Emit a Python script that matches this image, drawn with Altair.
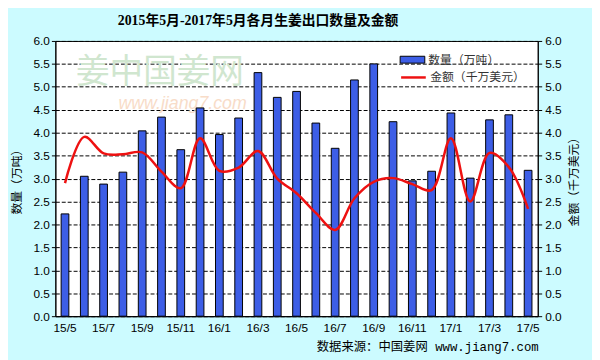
import altair as alt
import pandas as pd

months = ["15/5", "15/6", "15/7", "15/8", "15/9", "15/10", "15/11", "15/12",
          "16/1", "16/2", "16/3", "16/4", "16/5", "16/6", "16/7", "16/8",
          "16/9", "16/10", "16/11", "16/12", "17/1", "17/2", "17/3", "17/4", "17/5"]
qty = [2.23, 3.05, 2.88, 3.14, 4.04, 4.34, 3.63, 4.54, 3.96, 4.32, 5.31, 4.77, 4.90,
       4.21, 3.66, 5.15, 5.50, 4.24, 2.95, 3.16, 4.43, 3.01, 4.28, 4.39, 3.18]
amt = [2.90, 3.91, 3.55, 3.53, 3.57, 3.15, 2.79, 3.88, 3.17, 3.24, 3.60, 3.00, 2.68,
       2.25, 1.88, 2.57, 2.93, 3.01, 2.88, 2.75, 3.88, 2.50, 3.56, 3.25, 2.34]
label_months = months[::2]
name_q = "数量（万吨）"
name_a = "金额（千万美元）"
title_text = "2015年5月-2017年5月各月生姜出口数量及金额"
source_text = "数据来源：中国姜网 www.jiang7.com"

df = pd.DataFrame({"month": months, "qty": qty, "amt": amt,
                   "sq": [name_q] * len(months), "sa": [name_a] * len(months)})

CJK = "Noto Sans CJK SC"

x_axis = alt.Axis(values=label_months, labelAngle=0, ticks=False, labelPadding=7,
                  title=None, labelFont="Liberation Sans", labelFontSize=12,
                  labelColor="black", domainColor="black", grid=False)
x_enc = alt.X("month:N", sort=months, axis=x_axis,
              scale=alt.Scale(paddingInner=0.6, paddingOuter=0.3))

base = alt.Chart(df)

wm1 = alt.Chart(pd.DataFrame({"t": ["姜中国姜网"]})).mark_text(
    font=CJK, fontSize=34, color="#d0e6cf", align="center", baseline="middle"
).encode(text="t:N", x=alt.value(106), y=alt.value(33))
wm2 = alt.Chart(pd.DataFrame({"t": ["www.jiang7.com"]})).mark_text(
    font="Liberation Sans", fontSize=18, fontStyle="italic", color="#f8dcc8",
    align="center", baseline="middle"
).encode(text="t:N", x=alt.value(129), y=alt.value(64))

bars = base.mark_bar(stroke="black", strokeWidth=1).encode(
    x=x_enc,
    y=alt.Y("qty:Q", scale=alt.Scale(domain=[0, 6]),
            axis=alt.Axis(orient="left", values=[i * 0.5 for i in range(13)], format=".1f",
                          title=name_q, titleFont=CJK, titleFontSize=12, titleFontWeight="normal",
                          titleColor="black", titlePadding=10,
                          labelFont="Liberation Sans", labelFontSize=12, labelColor="black",
                          tickSize=4, tickColor="black", labelPadding=2, domainColor="black",
                          grid=True, gridColor="black", gridDash=[4, 2], gridWidth=1)),
    fill=alt.Fill("sq:N", scale=alt.Scale(domain=[name_q], range=["#3d5ee6"]),
                  legend=alt.Legend(title=None, orient="none", legendX=349, legendY=6,
                                    symbolType="M-1,-0.28L1,-0.28L1,0.28L-1,0.28Z",
                                    symbolSize=625, symbolStrokeColor="black",
                                    symbolStrokeWidth=1, labelFont=CJK, labelFontSize=12,
                                    labelColor="#333333", labelOffset=3, padding=0)),
)

line = base.mark_line(interpolate="catmull-rom", strokeWidth=2.5).encode(
    x=x_enc,
    y=alt.Y("amt:Q", scale=alt.Scale(domain=[0, 6]),
            axis=alt.Axis(orient="right", values=[i * 0.5 for i in range(13)], format=".1f",
                          title=name_a, titleFont=CJK, titleFontSize=12, titleFontWeight="normal",
                          titleColor="black", titlePadding=8, titleAngle=270,
                          titleBaseline="top",
                          labelFont="Liberation Sans", labelFontSize=12, labelColor="black",
                          tickSize=4, tickColor="black", labelPadding=3, domainColor="black",
                          grid=False)),
    stroke=alt.Stroke("sa:N", scale=alt.Scale(domain=[name_a], range=["#ee1111"]),
                      legend=alt.Legend(title=None, orient="none", legendX=349, legendY=23,
                                        symbolType="stroke", symbolSize=625,
                                        symbolStrokeWidth=2.5, labelFont=CJK, labelFontSize=12,
                                        labelColor="#333333", labelOffset=3, padding=0)),
)

src = alt.Chart(pd.DataFrame({"t": [source_text]})).mark_text(
    font="Liberation Mono, Noto Sans CJK SC", fontSize=12.5, color="black",
    align="right", baseline="middle"
).encode(text="t:N", x=alt.value(490), y=alt.value(310))

chart = alt.layer(wm1, wm2, bars, line, src).resolve_scale(
    y="independent", fill="independent", stroke="independent"
).properties(
    width=489, height=279,
    title=alt.TitleParams(title_text, font="Liberation Serif, Noto Sans CJK SC",
                          fontSize=14, fontWeight="bold", color="black",
                          anchor="middle", dx=-39, offset=7),
    autosize=alt.AutoSizeParams(type="none"),
    padding={"left": 48, "top": 31, "right": 55, "bottom": 42},
    background="#ccfbff",
).configure_view(stroke="black", strokeWidth=1, fill="white")

chart.save("out.html", embed_options={"renderer": "svg", "actions": False})
